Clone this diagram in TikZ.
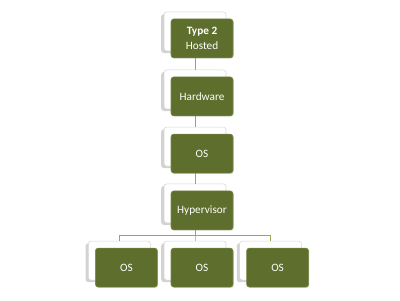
\documentclass[tikz,border=0pt]{standalone}
\usepackage{fontspec}
\setmainfont{Carlito}
\usepackage{tikz}
\usetikzlibrary{positioning,shadows}
\usepackage{xcolor}

\definecolor{olivebox}{RGB}{94,110,44}
\definecolor{oliveedge}{RGB}{120,136,70}
\definecolor{oliveline}{RGB}{150,172,80}
\definecolor{cardedge}{RGB}{215,215,215}

\tikzset{
    greenbox/.style={rectangle, rounded corners=2pt, fill=olivebox, draw=oliveedge,
        minimum width=1.55cm, minimum height=0.975cm, text=white, font=\fontsize{8}{10}\selectfont,
        align=center, inner sep=1pt,
        drop shadow={shadow xshift=0.6pt, shadow yshift=-0.6pt, opacity=0.25}},
    card/.style={rectangle, rounded corners=2pt, fill=white, draw=cardedge,
        minimum width=1.55cm, minimum height=0.975cm,
        drop shadow={shadow xshift=-2pt, shadow yshift=-1.5pt, opacity=0.35}},
    link/.style={draw=oliveline, line width=0.6pt}
}

\begin{document}
\begin{tikzpicture}
            \useasboundingbox (0,0) rectangle (10,7.5);
            % cards behind
            \node[card] (c1) at (4.875,6.715) {};
            \node[card] (c2) at (4.875,5.265) {};
            \node[card] (c3) at (4.875,3.835) {};
            \node[card] (c4) at (4.875,2.415) {};
            \node[card] (c5) at (2.985,0.985) {};
            \node[card] (c6) at (4.875,0.985) {};
            \node[card] (c7) at (6.765,0.985) {};
            % connectors
            \draw[link] (c1.south) -- (c2.north);
            \draw[link] (c2.south) -- (c3.north);
            \draw[link] (c3.south) -- (c4.north);
            \foreach \c in {c5,c6,c7}
                \draw[link] (\c.north) -- ++(0,0.125) -| (c4.south);
            % front boxes
            \node[greenbox] (type) at (5.05,6.54) {\textbf{Type 2}\\[1pt]Hosted};
            \node[greenbox] (hw) at (5.05,5.09) {Hardware};
            \node[greenbox] (os) at (5.05,3.66) {OS};
            \node[greenbox] (hyp) at (5.05,2.24) {Hypervisor};
            \node[greenbox] (os1) at (3.16,0.81) {OS};
            \node[greenbox] (os2) at (5.05,0.81) {OS};
            \node[greenbox] (os3) at (6.94,0.81) {OS};
        \end{tikzpicture}
\end{document}
